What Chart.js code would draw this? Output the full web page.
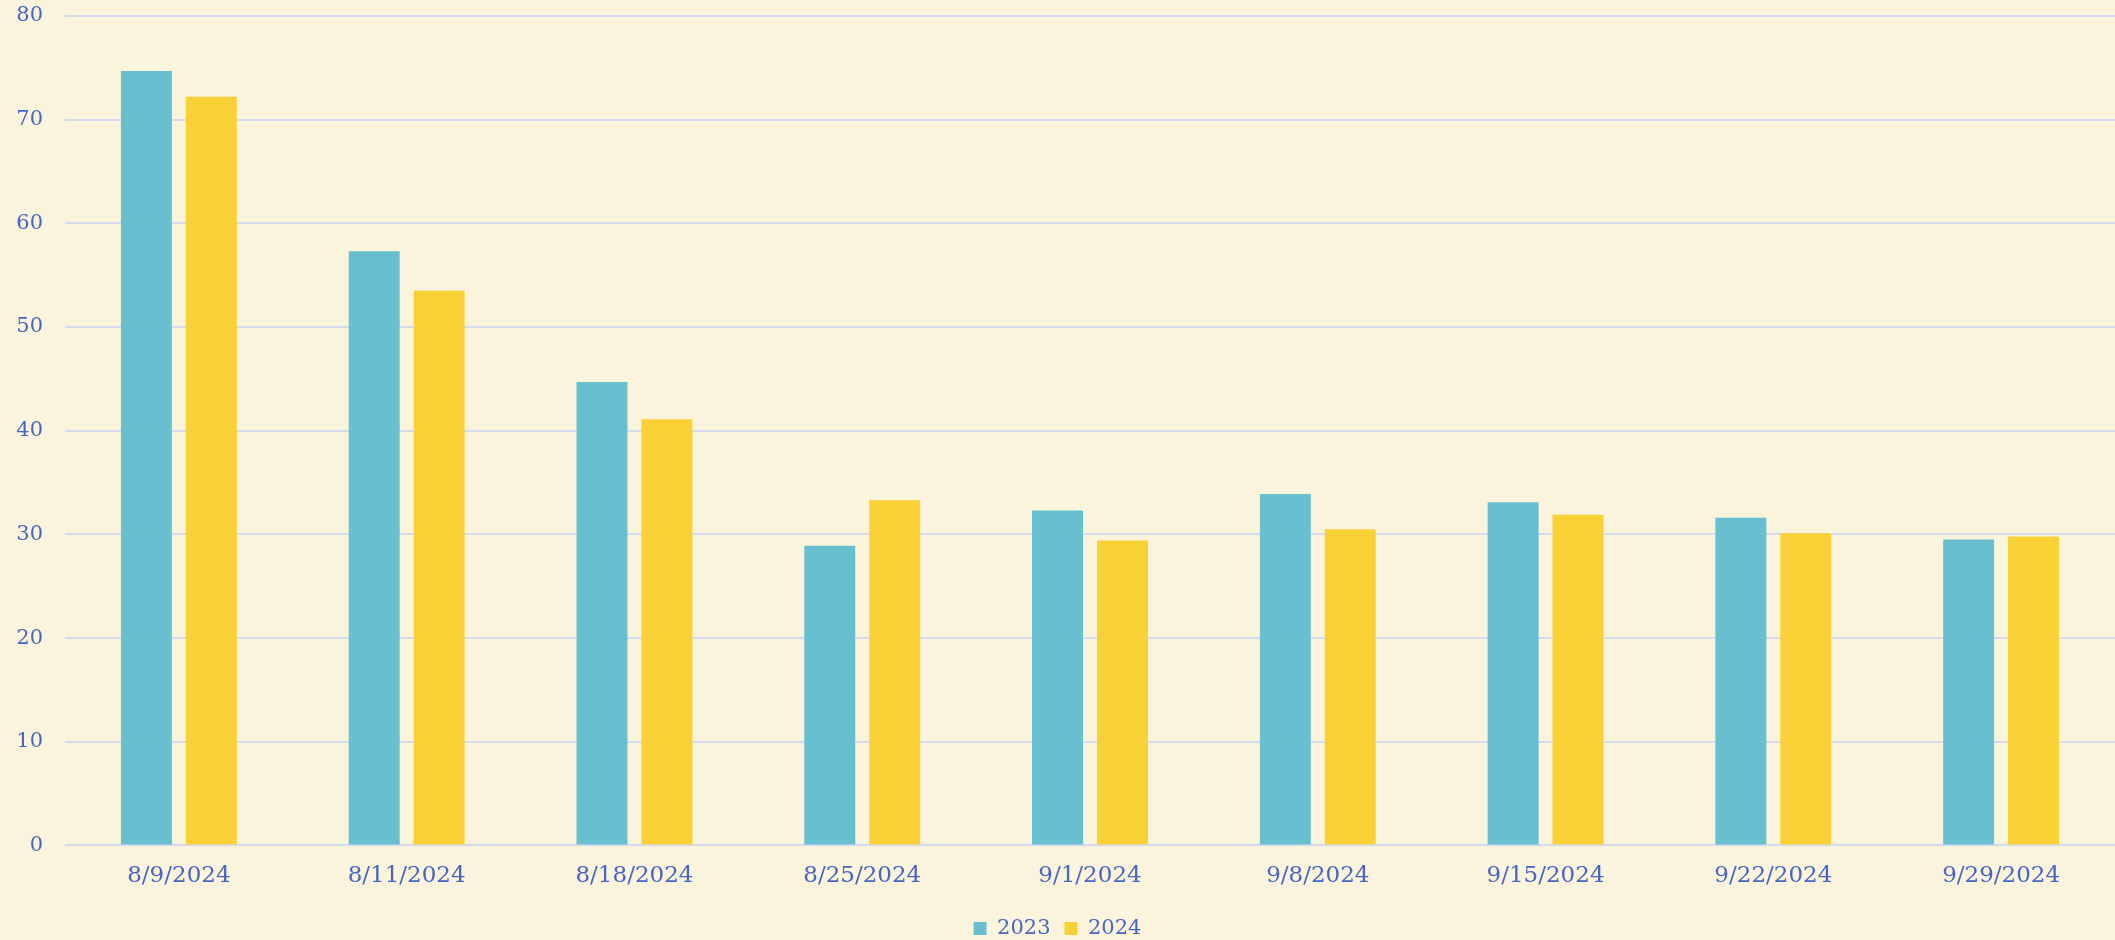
<!DOCTYPE html>
<html>
<head>
<meta charset="utf-8">
<script src="https://cdn.jsdelivr.net/npm/chart.js@4"></script>
<style>
  html, body { margin: 0; padding: 0; background: #faf4dc; }
  #wrap { width: 2115px; height: 940px; position: relative; }
</style>
</head>
<body>
<div id="wrap"><canvas id="grafico"></canvas></div>
<script>
// datas (eixo x)
const semanas = [
    "8/9/2024", "8/11/2024", "8/18/2024", "8/25/2024", "9/1/2024",
    "9/8/2024", "9/15/2024", "9/22/2024", "9/29/2024"
];

// valores
const valores2023 = [74.7, 57.3, 44.7, 28.9, 32.3, 33.9, 33.1, 31.6, 29.5];
const valores2024 = [72.2, 53.5, 41.1, 33.3, 29.4, 30.5, 31.9, 30.1, 29.8];

const yMax = 80;
const yStep = 10;

const corTexto = "#4865c4";
const familia = "'DejaVu Serif', serif";

new Chart(document.getElementById("grafico"), {
    type: "bar",
    data: {
        labels: semanas,
        datasets: [{
            label: "2023",
            data: valores2023,
            backgroundColor: "#67bfcf",
            categoryPercentage: 0.57,
            barPercentage: 0.785
        }, {
            label: "2024",
            data: valores2024,
            backgroundColor: "#f9d136",
            categoryPercentage: 0.57,
            barPercentage: 0.785
        }]
    },
    options: {
        responsive: true,
        maintainAspectRatio: false,
        animation: false,
        layout: {
            padding: { top: 0, left: 0, right: 0, bottom: -9 }
        },
        plugins: {
            legend: {
                position: "bottom",
                labels: {
                    color: corTexto,
                    font: { family: familia, size: 21 },
                    boxWidth: 13,
                    boxHeight: 13,
                    padding: 14
                }
            },
            tooltip: { enabled: false }
        },
        scales: {
            x: {
                grid: { display: false, drawTicks: false },
                border: { display: false },
                ticks: { color: corTexto, font: { family: familia, size: 23 }, padding: 17 },
                afterFit(scale) {
                    scale.height -= 3;
                }
            },
            y: {
                min: 0,
                max: yMax,
                grid: { color: "#d6daee", lineWidth: 2, drawTicks: false },
                border: { display: false },
                ticks: { stepSize: yStep, color: corTexto, font: { family: familia, size: 21 }, padding: 22 },
                afterFit(scale) {
                    // largura fixa do eixo e sem folga extra em cima/baixo
                    scale.width = 65;
                    scale.paddingTop = 16;
                    scale.paddingBottom = 0;
                }
            }
        }
    }
});
</script>
</body>
</html>
